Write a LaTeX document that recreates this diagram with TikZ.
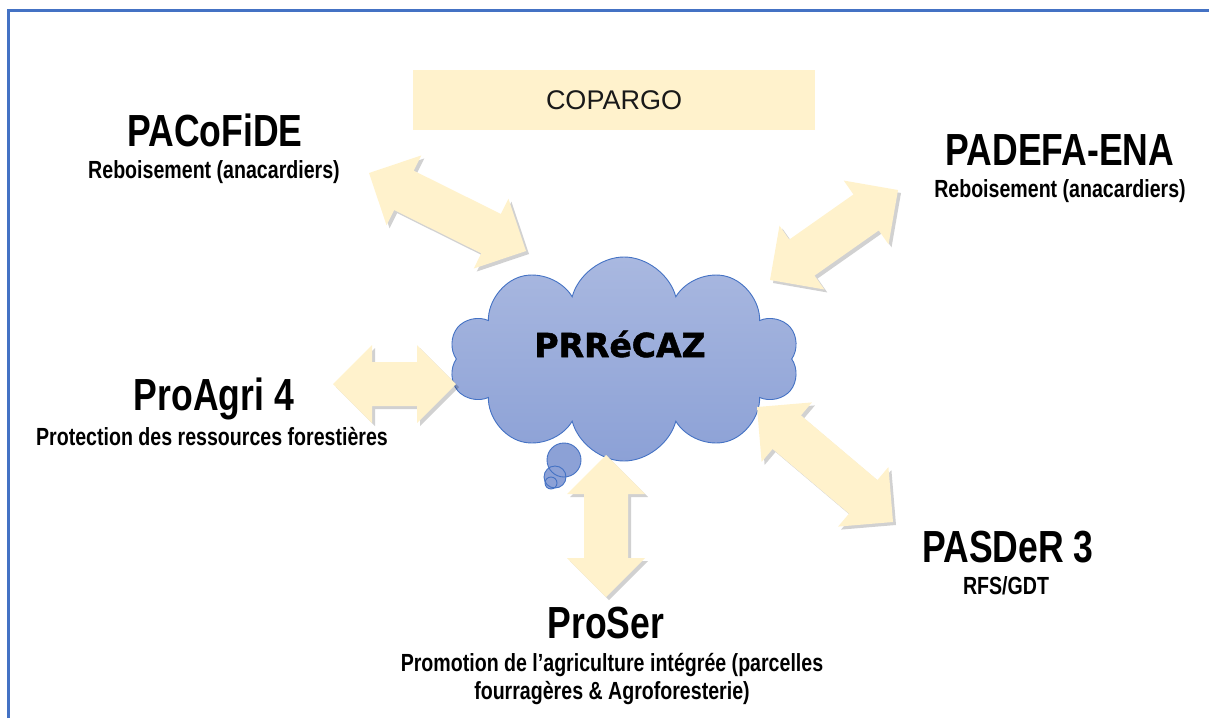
\documentclass[tikz,border=0pt]{standalone}
\usepackage{fontspec}
\setmainfont{Liberation Sans}
\newfontfamily\narrowfont{Liberation Sans}[FakeStretch=0.79]
\newfontfamily\heavyfont{DejaVu Sans}[FakeBold=1.6]
\usetikzlibrary{calc}
\usetikzlibrary{positioning}
\usetikzlibrary{shapes.symbols}
\usetikzlibrary{shadows}
\definecolor{frameblue}{HTML}{4472C4}
\definecolor{paleyellow}{HTML}{FFF2CC}
\definecolor{cloudtop}{HTML}{A9B8E0}
\definecolor{cloudbot}{HTML}{8CA1D6}
\tikzset{title/.style = {font=\narrowfont\bfseries\fontsize{45}{48}\selectfont,
                         anchor=base, inner sep=0}}
\tikzset{subtitle/.style = {font=\narrowfont\bfseries\fontsize{24.8}{28}\selectfont,
                            anchor=base, inner sep=0}}
\tikzset{bigarrow/.style = {fill=paleyellow,
                            drop shadow={shadow xshift=3pt, shadow yshift=-3pt,
                                         opacity=0.18, fill=black}}}

% fat two-headed arrow between two tips
\newcommand{\twoway}[2]{%
  \path[bigarrow] (#1)
    -- ($(#1)!39pt!(#2)!39pt!90:(#2)$)
    -- ($(#1)!39pt!(#2)!22pt!90:(#2)$)
    -- ($(#2)!39pt!(#1)!22pt!-90:(#1)$)
    -- ($(#2)!39pt!(#1)!39pt!-90:(#1)$)
    -- (#2)
    -- ($(#2)!39pt!(#1)!39pt!90:(#1)$)
    -- ($(#2)!39pt!(#1)!22pt!90:(#1)$)
    -- ($(#1)!39pt!(#2)!22pt!-90:(#2)$)
    -- ($(#1)!39pt!(#2)!39pt!-90:(#2)$)
    -- cycle;}

\begin{document}
\begin{tikzpicture}[x=1pt, y=-1pt]
  \useasboundingbox (0,0) rectangle (1209,718);
  \draw[frameblue, line width=3pt] (8.5,718) -- (8.5,10.5) -- (1209,10.5);

  % central cloud
  \node[cloud, cloud puffs=10, aspect=1.7, minimum width=350, minimum height=204,
        draw=frameblue, line width=0.9pt, top color=cloudtop, bottom color=cloudbot]
        (prr) at (624,359) {};
  \foreach \cx/\cy/\r in {564/460/17, 555/477/11, 551/483/6}
    \fill[cloudbot] (\cx,\cy) circle [radius=\r];
  \foreach \cx/\cy/\r in {564/460/17, 555/477/11, 551/483/6}
    \draw[frameblue, line width=0.9pt] (\cx,\cy) circle [radius=\r];
  \node[font=\heavyfont\bfseries\fontsize{33}{36}\selectfont, anchor=base]
        (prrtext) at (620,357) {PRRéCAZ};

  % COPARGO
  \node[fill=paleyellow, minimum width=402, minimum height=60, inner sep=0,
        font=\fontsize{27}{30}\selectfont, text=black!90]
        (copargo) at (614,100) {COPARGO};

  % partners
  \node[title] (pac) at (215,146) {PACoFiDE};
  \node[subtitle] (pacsub) at (214,178) {Reboisement (anacardiers)};
  \node[title] (padefa) at (1060,165) {PADEFA-ENA};
  \node[subtitle] (padefasub) at (1060,197) {Reboisement (anacardiers)};
  \node[title] (proagri) at (214,410) {ProAgri 4};
  \node[subtitle] (proagrisub) at (212,445) {Protection des ressources forestières};
  \node[title] (pasder) at (1008,562) {PASDeR 3};
  \node[subtitle] (pasdersub) at (1006,594) {RFS/GDT};
  \node[title] (proser) at (606,638) {ProSer};
  \node[subtitle, anchor=north, align=center] (prosersub) at (612,653)
        {Promotion de l’agriculture intégrée (parcelles\\fourragères \& Agroforesterie)};

  % arrows
  \coordinate (pac-a) at (369,173);
  \coordinate (pac-b) at (526,251);
  \coordinate (padefa-a) at (898,190);
  \coordinate (padefa-b) at (770,280);
  \coordinate (proagri-a) at (333,384);
  \coordinate (proagri-b) at (456,384);
  \coordinate (pasder-a) at (757,407);
  \coordinate (pasder-b) at (893,522);
  \coordinate (proser-a) at (606,455);
  \coordinate (proser-b) at (606,597);
  \foreach \n in {pac, padefa, proagri, pasder, proser} {
    \twoway{\n-a}{\n-b}
  }
\end{tikzpicture}
\end{document}
